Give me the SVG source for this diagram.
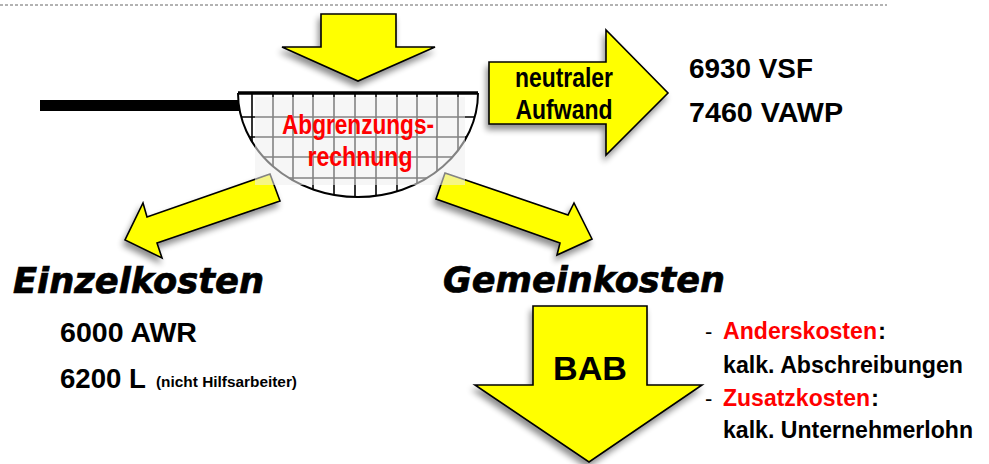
<svg xmlns="http://www.w3.org/2000/svg" width="989" height="464" viewBox="0 0 989 464">
<style>
.ya{fill:#ffff00;stroke:#000;stroke-width:1.6;stroke-linejoin:miter;filter:url(#sh)}
.nb{font-family:"Liberation Sans",Arial,sans-serif;font-weight:bold;fill:#000}
.big{font-family:"DejaVu Sans",Verdana,sans-serif;font-weight:bold;font-style:oblique;font-size:35px;fill:#000;stroke:#000;stroke-width:0.7}
.red{fill:#ff0000}
.grid line{stroke:#000;stroke-width:1.6}
</style>
<defs>
<filter id="sh" x="-20%" y="-20%" width="140%" height="150%">
<feGaussianBlur in="SourceAlpha" stdDeviation="3"/>
<feOffset dx="-2" dy="5" result="b"/>
<feComponentTransfer><feFuncA type="linear" slope="0.45"/></feComponentTransfer>
<feMerge><feMergeNode/><feMergeNode in="SourceGraphic"/></feMerge>
</filter>
<clipPath id="bowl"><path d="M238,93 H478 A120,104 0 0 1 238,93 Z"/></clipPath>
</defs>
<line x1="0" y1="5" x2="887" y2="5" stroke="#666" stroke-width="1" stroke-dasharray="3,2"/>

<g id="connectors">
<polygon class="ya" points="321,14 396,14 396,47 435,47 358,81 282,47 321,47"/>
<polygon class="ya" points="270,174 280,201 157,243 162,258 125,240 143,203 147,217"/>
<polygon class="ya" points="445,173 568,215 574,203 592,239 557,255 560,243 436,199"/>
</g>

<g id="sieve">
<rect x="40" y="100" width="200" height="11" fill="#000"/>
<path d="M238,93 H478 A120,104 0 0 1 238,93 Z" fill="#fff"/>
<g class="grid" clip-path="url(#bowl)">
<line x1="252" y1="90" x2="252" y2="200"/><line x1="273" y1="90" x2="273" y2="200"/>
<line x1="293" y1="90" x2="293" y2="200"/><line x1="313" y1="90" x2="313" y2="200"/>
<line x1="334" y1="90" x2="334" y2="200"/><line x1="355" y1="90" x2="355" y2="200"/>
<line x1="376" y1="90" x2="376" y2="200"/><line x1="397" y1="90" x2="397" y2="200"/>
<line x1="417" y1="90" x2="417" y2="200"/><line x1="437" y1="90" x2="437" y2="200"/>
<line x1="458" y1="90" x2="458" y2="200"/>
<line x1="230" y1="117" x2="490" y2="117"/><line x1="230" y1="137" x2="490" y2="137"/>
<line x1="230" y1="157" x2="490" y2="157"/><line x1="230" y1="178" x2="490" y2="178"/>
</g>
<path d="M478,93 A120,104 0 0 1 238,93" fill="none" stroke="#000" stroke-width="2"/>
<rect x="255" y="97" width="210" height="88" fill="#eeeeee" fill-opacity="0.55"/>
<line x1="238" y1="93" x2="478" y2="93" stroke="#000" stroke-width="3.5"/>
<text class="nb red" x="358" y="134" font-size="28" text-anchor="middle" textLength="152" lengthAdjust="spacingAndGlyphs">Abgrenzungs-</text>
<text class="nb red" x="360" y="166" font-size="28" text-anchor="middle" textLength="105" lengthAdjust="spacingAndGlyphs">rechnung</text>
</g>

<g id="neutral">
<polygon class="ya" points="489,62 606,62 606,30 668,93 606,155 606,124 489,124"/>
<text class="nb" x="564" y="87" font-size="27" text-anchor="middle" textLength="98" lengthAdjust="spacingAndGlyphs">neutraler</text>
<text class="nb" x="564" y="119" font-size="27" text-anchor="middle" textLength="97" lengthAdjust="spacingAndGlyphs">Aufwand</text>
</g>

<g id="neutral-values">
<text class="nb" x="689" y="78" font-size="27" textLength="124" lengthAdjust="spacingAndGlyphs">6930 VSF</text>
<text class="nb" x="689" y="122" font-size="27" textLength="154" lengthAdjust="spacingAndGlyphs">7460 VAWP</text>
</g>

<g id="einzelkosten">
<text class="big" x="13" y="293" textLength="251" lengthAdjust="spacingAndGlyphs">Einzelkosten</text>
<text class="nb" x="60" y="342" font-size="27" textLength="137" lengthAdjust="spacingAndGlyphs">6000 AWR</text>
<text class="nb" x="60" y="388" font-size="27" textLength="86" lengthAdjust="spacingAndGlyphs">6200 L</text>
<text class="nb" x="156" y="387" font-size="15" textLength="141" lengthAdjust="spacingAndGlyphs">(nicht Hilfsarbeiter)</text>
</g>

<g id="gemeinkosten">
<text class="big" x="443" y="292" textLength="282" lengthAdjust="spacingAndGlyphs">Gemeinkosten</text>
</g>

<g id="bab">
<polygon class="ya" points="533,306 647,306 647,385 702,385 589,462 475,385 533,385"/>
<text class="nb" x="590" y="380" font-size="33" text-anchor="middle" textLength="74" lengthAdjust="spacingAndGlyphs">BAB</text>
</g>

<g id="kosten-list">
<text x="705" y="339" font-family="Liberation Sans, Arial, sans-serif" font-size="22">-</text>
<text class="nb red" x="723" y="339" font-size="23" textLength="154" lengthAdjust="spacingAndGlyphs">Anderskosten</text>
<text class="nb" x="878" y="339" font-size="24">:</text>
<text class="nb" x="723" y="373" font-size="24" textLength="240" lengthAdjust="spacingAndGlyphs">kalk. Abschreibungen</text>
<text x="705" y="406" font-family="Liberation Sans, Arial, sans-serif" font-size="22">-</text>
<text class="nb red" x="723" y="406" font-size="23" textLength="147" lengthAdjust="spacingAndGlyphs">Zusatzkosten</text>
<text class="nb" x="871" y="406" font-size="24">:</text>
<text class="nb" x="723" y="438" font-size="24" textLength="250" lengthAdjust="spacingAndGlyphs">kalk. Unternehmerlohn</text>
</g>
</svg>
